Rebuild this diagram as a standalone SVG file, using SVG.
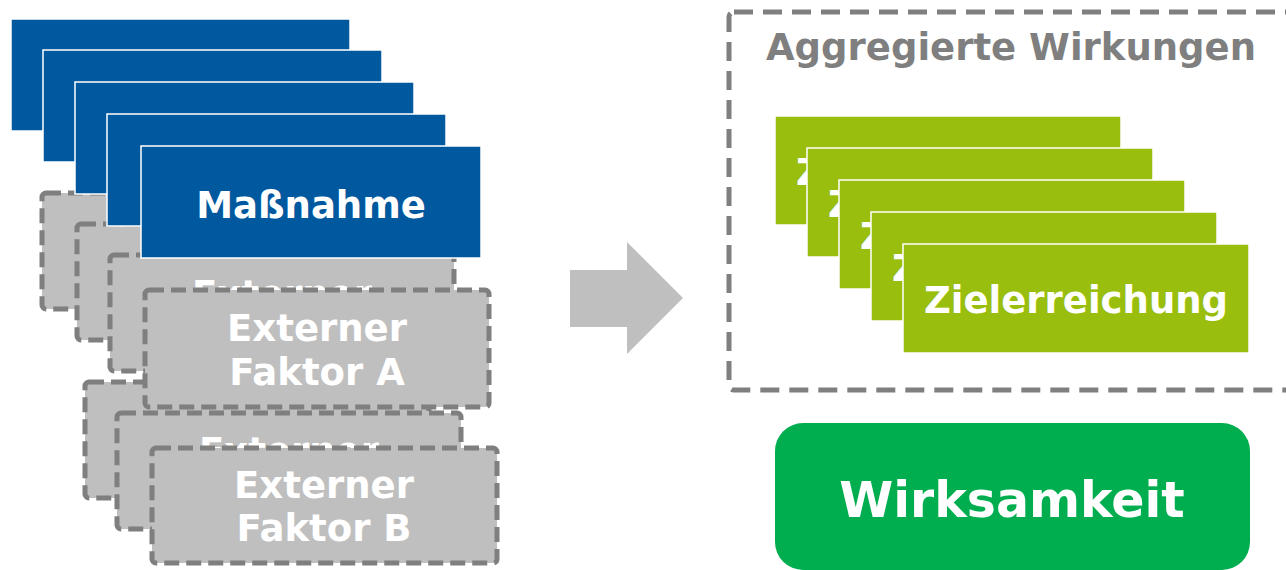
<svg xmlns="http://www.w3.org/2000/svg" width="1286" height="570" viewBox="0 0 1286 570">
<style>
text{font-family:"DejaVu Sans","Verdana",sans-serif;font-weight:bold;text-anchor:middle}
.blue{fill:#00589f;stroke:#ffffff;stroke-width:1.5}
.grey{fill:#bfbfbf;stroke:#7f7f7f;stroke-width:5;stroke-dasharray:15 7}
.green{fill:#99be0e;stroke:#ffffff;stroke-width:1.5}
.wt{fill:#ffffff;font-size:37px}
.z{text-anchor:start}
.cont{fill:none;stroke:#7f7f7f;stroke-width:5;stroke-dasharray:19 10}
</style>
<g id="externer-a-1"><rect class="grey" x="42" y="193" width="344" height="116" rx="4"/></g>
<g id="externer-a-2"><rect class="grey" x="77" y="224" width="344" height="116" rx="4"/></g>
<g id="externer-a-3"><rect class="grey" x="110" y="255" width="344" height="116" rx="4"/><text class="wt" x="282" y="307">Externer</text></g>
<g id="externer-b-1"><rect class="grey" x="85" y="382" width="344" height="116" rx="4"/></g>
<g id="externer-b-2"><rect class="grey" x="117" y="413" width="344" height="116" rx="4"/><text class="wt" x="289" y="464">Externer</text></g>
<g id="externer-b"><rect class="grey" x="152" y="448" width="345" height="115" rx="4"/><text class="wt" x="324" y="498">Externer</text><text class="wt" x="324" y="541">Faktor B</text></g>
<g id="massnahme-1"><rect class="blue" x="11" y="19" width="339" height="112"/></g>
<g id="massnahme-2"><rect class="blue" x="43" y="50" width="339" height="112"/></g>
<g id="massnahme-3"><rect class="blue" x="75" y="82" width="339" height="112"/></g>
<g id="massnahme-4"><rect class="blue" x="107" y="114" width="339" height="112"/></g>
<g id="massnahme"><rect class="blue" x="141" y="146" width="340" height="112"/><text class="wt" x="311" y="218">Maßnahme</text></g>
<g id="externer-a"><rect class="grey" x="145" y="290" width="344" height="117" rx="4"/><text class="wt" x="317" y="341">Externer</text><text class="wt" x="317" y="385">Faktor A</text></g>
<g id="connectors"><polygon points="570,270 627,270 627,242 683,298 627,354 627,327 570,327" fill="#bfbfbf"/></g>
<g id="aggregierte-wirkungen"><rect class="cont" x="729" y="12" width="566" height="378" rx="5"/><text x="1011" y="60" fill="#7f7f7f" font-size="37">Aggregierte Wirkungen</text></g>
<g id="ziel-1"><rect class="green" x="775" y="116" width="346" height="109"/><text class="wt z" x="796" y="185">Z</text></g>
<g id="ziel-2"><rect class="green" x="807" y="148" width="346" height="109"/><text class="wt z" x="828" y="217">Z</text></g>
<g id="ziel-3"><rect class="green" x="839" y="180" width="346" height="109"/><text class="wt z" x="860" y="249">Z</text></g>
<g id="ziel-4"><rect class="green" x="871" y="212" width="346" height="109"/><text class="wt z" x="892" y="281">Z</text></g>
<g id="zielerreichung"><rect class="green" x="903" y="244" width="346" height="109"/><text class="wt" x="1076" y="313">Zielerreichung</text></g>
<g id="wirksamkeit"><rect x="775" y="423" width="475" height="147" rx="28" fill="#00ae4f"/><text x="1012" y="517" fill="#ffffff" font-size="49">Wirksamkeit</text></g>
</svg>
